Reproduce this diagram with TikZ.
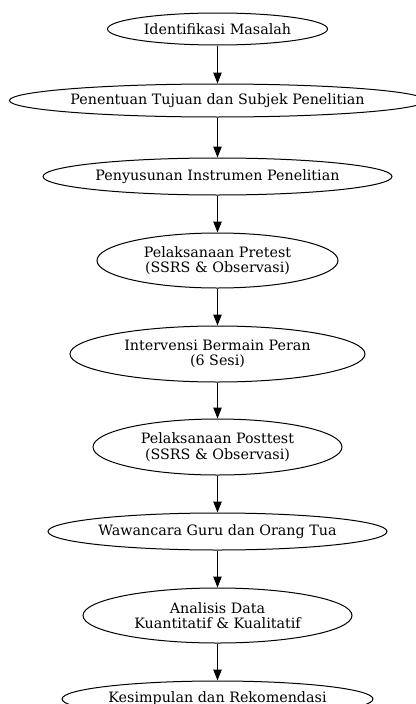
\documentclass[tikz,border=0pt]{standalone}
\usepackage{fontspec}
\setmainfont{DejaVu Serif}
\usetikzlibrary{shapes.geometric,arrows.meta}
\begin{document}
\begin{tikzpicture}[x=1pt,y=1pt,
  stage/.style={draw, ellipse, inner sep=0pt, line width=1pt, align=center,
    font=\fontsize{14.3}{15.5}\selectfont},
  flow/.style={line width=1pt, -{Triangle[length=11pt,width=8.5pt]}}]
\useasboundingbox (0,0) rectangle (415,-704);
\node[stage, minimum width=220, minimum height=32] (n1) at (217.5,-29) {Identifikasi Masalah};
\node[stage, minimum width=415, minimum height=33] (n2) at (217.5,-100.5) {Penentuan Tujuan dan Subjek Penelitian};
\node[stage, minimum width=349, minimum height=37] (n3) at (217.5,-176.5) {Penyusunan Instrumen Penelitian};
\node[stage, minimum width=241, minimum height=55] (n4) at (217.5,-260.5) {Pelaksanaan Pretest\\(SSRS \& Observasi)};
\node[stage, minimum width=295, minimum height=56] (n5) at (217.5,-354) {Intervensi Bermain Peran\\(6 Sesi)};
\node[stage, minimum width=249, minimum height=56] (n6) at (217.5,-447) {Pelaksanaan Posttest\\(SSRS \& Observasi)};
\node[stage, minimum width=339, minimum height=37] (n7) at (217.5,-531.5) {Wawancara Guru dan Orang Tua};
\node[stage, minimum width=269, minimum height=55] (n8) at (217.5,-615.5) {Analisis Data\\Kuantitatif \& Kualitatif};
\node[stage, minimum width=311, minimum height=36] (n9) at (217.5,-699) {Kesimpulan dan Rekomendasi};
\foreach \a/\b in {n1/n2,n2/n3,n3/n4,n4/n5,n5/n6,n6/n7,n7/n8,n8/n9}
  \draw[flow] (\a.south) -- (\b.north);
\end{tikzpicture}
\end{document}
